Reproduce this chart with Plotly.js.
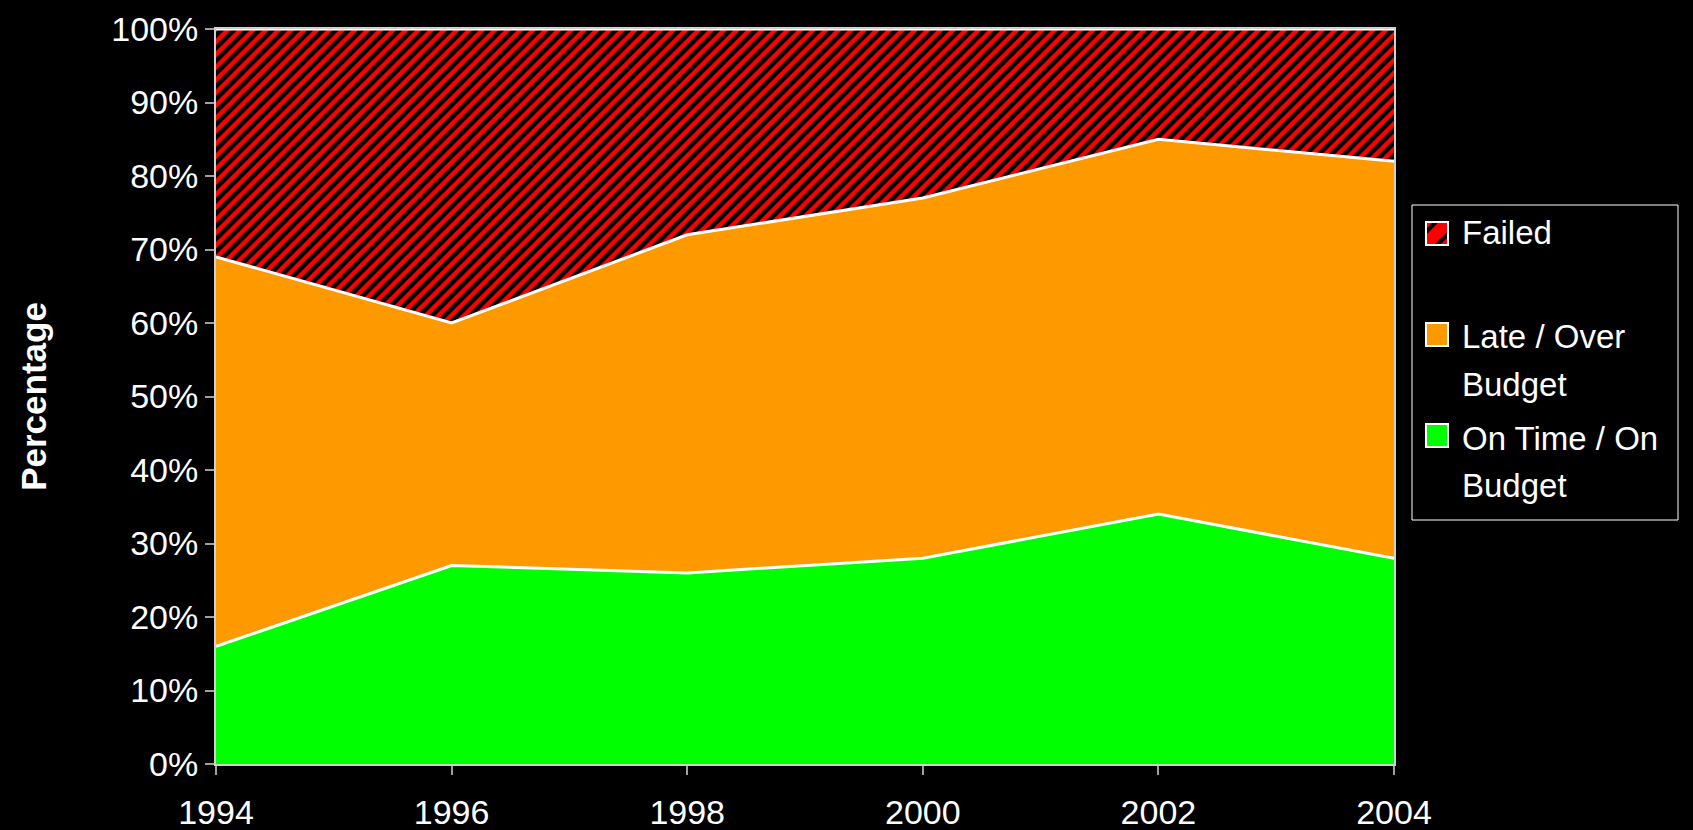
<!DOCTYPE html>
<html>
<head>
<meta charset="utf-8">
<script src="https://cdn.plot.ly/plotly-3.0.1.min.js"></script>
<style>html,body{margin:0;padding:0;background:#000;}#chart{width:1693px;height:830px;}</style>
</head>
<body>
<div id="chart"></div>
<script>
const years = [1994, 1996, 1998, 2000, 2002, 2004];
const onTime = [16, 27, 26, 28, 34, 28];
const late = [53, 33, 46, 49, 51, 54];
const failed = [31, 40, 28, 23, 15, 18];
const tickYears = [1994, 1996, 1998, 2000, 2002, 2004];
const seriesNames = ['On Time / On Budget', 'Late / Over Budget', 'Failed'];
const legendLines = [['Failed'], ['Late / Over', 'Budget'], ['On Time / On', 'Budget']];
const colors = {onTime: '#00ff00', late: '#ff9900', failedFg: '#ff0000', failedBg: '#000000'};

const FONT = 'Liberation Sans, Arial, sans-serif';
const lineStyle = {color: '#ffffff', width: 3};

const traces = [
  {x: years, y: onTime, name: seriesNames[0], type: 'scatter', mode: 'lines', stackgroup: 'one',
   line: lineStyle, fillcolor: colors.onTime, showlegend: false},
  {x: years, y: late, name: seriesNames[1], type: 'scatter', mode: 'lines', stackgroup: 'one',
   line: lineStyle, fillcolor: colors.late, showlegend: false},
  {x: years, y: failed, name: seriesNames[2], type: 'scatter', mode: 'lines', stackgroup: 'one',
   line: lineStyle, fillcolor: colors.failedBg, showlegend: false,
   fillpattern: {shape: '/', fgcolor: colors.failedFg, bgcolor: colors.failedBg, size: 9, solidity: 0.5, fillmode: 'replace'}}
];

// ---- custom legend (layout only) ----
const plotL = 216, plotW = 1178, plotB = 764, plotH = 735;
const px = v => (v - plotL) / plotW;
const py = v => (plotB - v) / plotH;

const shapes = [
  {type: 'rect', xref: 'paper', yref: 'paper', x0: px(1412), x1: px(1678), y0: py(520), y1: py(205),
   fillcolor: '#000000', line: {color: '#ffffff', width: 1}, layer: 'above'}
];
const symTops = [222, 323, 424];
const symFills = [colors.failedFg, colors.late, colors.onTime];
symTops.forEach((top, i) => {
  const base = {xref: 'paper', yref: 'paper', xsizemode: 'pixel', ysizemode: 'pixel',
    xanchor: px(1426), yanchor: py(top + 23), layer: 'above'};
  shapes.push(Object.assign({type: 'rect', x0: 0, x1: 22, y0: 0, y1: 23,
    fillcolor: symFills[i], line: {width: 0}}, base));
  if (i === 0) {
    shapes.push(Object.assign({type: 'path', path: 'M0,13 L10,23', line: {color: '#000000', width: 4}}, base));
    shapes.push(Object.assign({type: 'path', path: 'M11,0 L22,11', line: {color: '#000000', width: 4}}, base));
  }
  shapes.push(Object.assign({type: 'rect', x0: 0, x1: 22, y0: 0, y1: 23,
    fillcolor: 'rgba(0,0,0,0)', line: {color: '#ffffff', width: 2}}, base));
});

const lineYs = [[232], [337, 384], [439, 485]];
const annotations = [];
legendLines.forEach((lines, i) => {
  lines.forEach((t, j) => {
    annotations.push({text: t, xref: 'paper', yref: 'paper', x: px(1460), y: py(lineYs[i][j]),
      xanchor: 'left', yanchor: 'middle', showarrow: false,
      font: {family: FONT, size: 33, color: '#ffffff'}});
  });
});

const layout = {
  width: 1693, height: 830,
  paper_bgcolor: '#000000', plot_bgcolor: '#000000',
  margin: {l: 216, r: 299, t: 29, b: 66},
  font: {family: FONT, color: '#ffffff', size: 34},
  showlegend: false,
  hovermode: false,
  xaxis: {
    range: [1994, 2004], tickvals: tickYears, ticktext: tickYears.map(String),
    showgrid: false, zeroline: false,
    showline: true, linecolor: '#d0d0d0', linewidth: 2, mirror: true,
    ticks: 'outside', ticklen: 9, tickcolor: '#a0a0a0', tickwidth: 2,
    ticklabelstandoff: 8,
    tickfont: {family: FONT, size: 34, color: '#ffffff'}
  },
  yaxis: {
    range: [0, 100], dtick: 10, ticksuffix: '%',
    showgrid: false, zeroline: false,
    showline: true, linecolor: '#d0d0d0', linewidth: 2, mirror: true,
    ticks: 'outside', ticklen: 9, tickcolor: '#a0a0a0', tickwidth: 2,
    tickfont: {family: FONT, size: 34, color: '#ffffff'},
    title: {text: '<b>Percentage</b>', font: {family: FONT, size: 35, color: '#ffffff'}, standoff: 54}
  },
  shapes: shapes,
  annotations: annotations
};

Plotly.newPlot('chart', traces, layout, {displayModeBar: false, staticPlot: true});
</script>
</body>
</html>
